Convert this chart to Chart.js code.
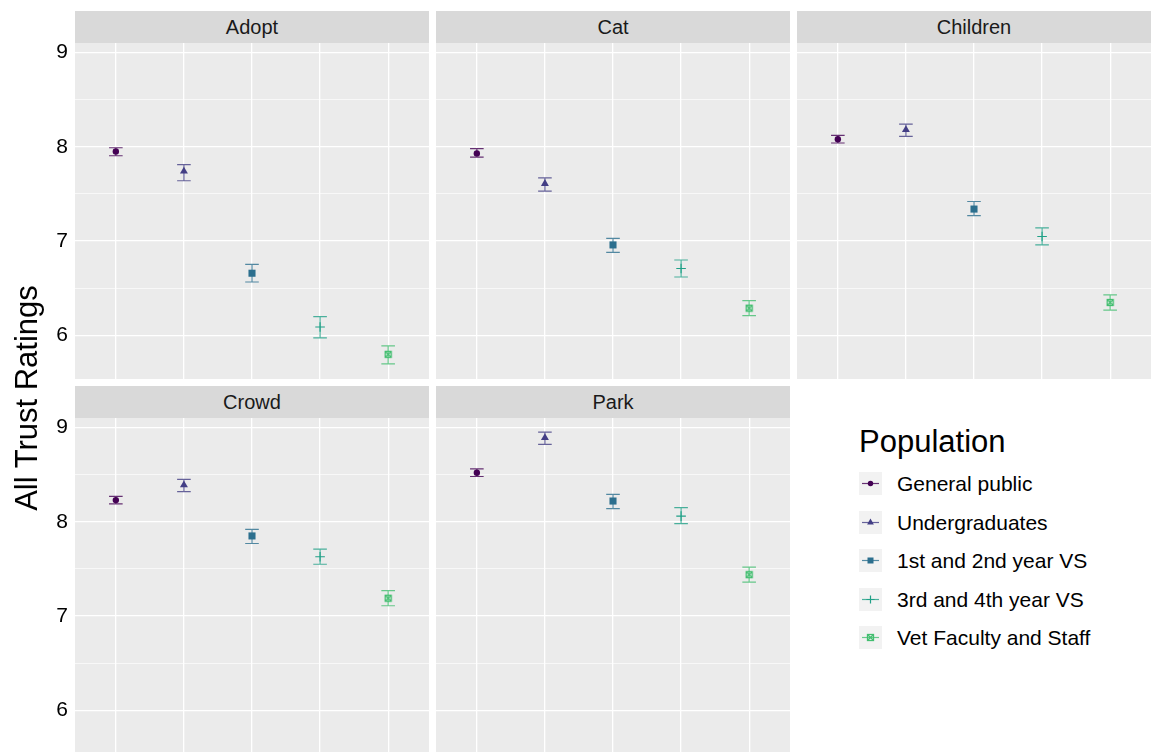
<!DOCTYPE html>
<html><head><meta charset="utf-8">
<script src="https://cdn.jsdelivr.net/npm/chart.js"></script>
<style>
html,body{margin:0;padding:0}
body{width:1156px;height:752px;overflow:hidden;background:#fff;position:relative;font-family:"Liberation Sans",Arial,Helvetica,sans-serif}
.strip{position:absolute;background:#D9D9D9;color:#1A1A1A;font-size:20px;text-align:center;height:32px;line-height:32px}
canvas{position:absolute}
.ytitle{position:absolute;width:400px;height:40px;line-height:40px;text-align:center;font-size:31px;color:#000;transform:rotate(-90deg)}
.ltitle{position:absolute;font-size:31px;line-height:30px;color:#000}
.lkey{position:absolute;width:23px;height:23px}
.llabel{position:absolute;font-size:21px;line-height:23px;color:#000;white-space:nowrap}
</style></head>
<body>
<script>
// ---- data ----
const populations = ['General public','Undergraduates','1st and 2nd year VS','3rd and 4th year VS','Vet Faculty and Staff'];
const facets = ['Adopt','Cat','Children','Crowd','Park'];
const adoptMean    = [7.95, 7.74, 6.66, 6.09, 5.80];
const adoptLow     = [7.905, 7.64, 6.567, 5.974, 5.70];
const adoptHigh    = [7.99, 7.81, 6.754, 6.20, 5.89];
const catMean      = [7.93, 7.61, 6.96, 6.71, 6.29];
const catLow       = [7.89, 7.53, 6.88, 6.62, 6.21];
const catHigh      = [7.98, 7.67, 7.03, 6.80, 6.37];
const childrenMean = [8.08, 8.18, 7.34, 7.05, 6.35];
const childrenLow  = [8.04, 8.11, 7.27, 6.96, 6.27];
const childrenHigh = [8.12, 8.24, 7.42, 7.14, 6.43];
const crowdMean    = [8.23, 8.39, 7.85, 7.63, 7.19];
const crowdLow     = [8.19, 8.32, 7.77, 7.55, 7.11];
const crowdHigh    = [8.27, 8.45, 7.92, 7.71, 7.27];
const parkMean     = [8.52, 8.89, 8.22, 8.06, 7.44];
const parkLow      = [8.48, 8.82, 8.14, 7.98, 7.36];
const parkHigh     = [8.56, 8.95, 8.29, 8.15, 7.52];
const yMajorTicks  = [6, 7, 8, 9];
const yMinorTicks  = [6.5, 7.5, 8.5];
const yTitle = 'All Trust Ratings';
const legendTitle = 'Population';

// ---- styles ----
const colors = ['#440154','#433E85','#2C6F8E','#21A087','#43BE70'];
const FONT = '"Liberation Sans", Arial, Helvetica, sans-serif';
const means = [adoptMean, catMean, childrenMean, crowdMean, parkMean];
const lows  = [adoptLow, catLow, childrenLow, crowdLow, parkLow];
const highs = [adoptHigh, catHigh, childrenHigh, crowdHigh, parkHigh];

function hexA(hex, a){
  const n = parseInt(hex.slice(1),16);
  return 'rgba(' + ((n>>16)&255) + ',' + ((n>>8)&255) + ',' + (n&255) + ',' + a + ')';
}
function squareCross(color){
  const c = document.createElement('canvas');
  c.width = 9; c.height = 9;
  const g = c.getContext('2d');
  g.strokeStyle = color; g.lineWidth = 1.3;
  g.strokeRect(1.5,1.5,6,6);
  g.beginPath(); g.moveTo(1.5,1.5); g.lineTo(7.5,7.5); g.moveTo(7.5,1.5); g.lineTo(1.5,7.5); g.stroke();
  return c;
}
const pointStyles = ['circle','triangle','rect','cross', squareCross(colors[4])];
const pointRadii  = [3.2, 4.6, 5, 4.8, 4.5];
const pointBorder = [0, 0, 0, 1.1, 0];

const bgPlugin = {
  id:'panelbg',
  beforeDraw(chart){
    const {ctx, chartArea:a} = chart;
    ctx.save(); ctx.fillStyle = '#EBEBEB';
    ctx.fillRect(a.left, a.top, a.right-a.left, a.bottom-a.top);
    ctx.restore();
  }
};
const errPlugin = {
  id:'errbars',
  beforeDatasetsDraw(chart, args, opts){
    const fi = opts.fi;
    const {ctx, scales:{x, y}} = chart;
    ctx.save();
    ctx.lineWidth = 1.2;
    for (let i = 0; i < populations.length; i++){
      const px = x.getPixelForValue(i+1);
      const xl = x.getPixelForValue(i+1-0.1), xr = x.getPixelForValue(i+1+0.1);
      const yl = y.getPixelForValue(lows[fi][i]), yh = y.getPixelForValue(highs[fi][i]);
      ctx.strokeStyle = hexA(colors[i], 0.8);
      ctx.beginPath();
      ctx.moveTo(px, yl); ctx.lineTo(px, yh);
      ctx.moveTo(xl, yl); ctx.lineTo(xr, yl);
      ctx.moveTo(xl, yh); ctx.lineTo(xr, yh);
      ctx.stroke();
    }
    ctx.restore();
  }
};

// ---- layout ----
const colX = [75, 436, 797];
const rowY = [43, 418];
const PW = 354, PH = 336, AXW = 35;
const YMIN = 5.539, YMAX = 9.1;

function addDiv(cls, text, css){
  const d = document.createElement('div');
  d.className = cls; d.textContent = text;
  Object.assign(d.style, css);
  document.body.appendChild(d);
  return d;
}

facets.forEach((name, fi) => {
  const col = fi % 3, row = Math.floor(fi / 3);
  const showY = col === 0;
  const axw = showY ? AXW : 0;
  addDiv('strip', name, {left: colX[col]+'px', top: (rowY[row]-32)+'px', width: PW+'px'});
  const cv = document.createElement('canvas');
  cv.width = PW + axw; cv.height = PH;
  cv.style.left = (colX[col]-axw)+'px'; cv.style.top = rowY[row]+'px';
  document.body.appendChild(cv);
  new Chart(cv, {
    type:'scatter',
    data:{
      datasets: populations.map((p, i) => ({
        label: p,
        data: [{x: i+1, y: means[fi][i]}],
        pointStyle: pointStyles[i],
        pointRadius: pointRadii[i],
        borderWidth: pointBorder[i],
        backgroundColor: colors[i],
        borderColor: colors[i],
        clip: false
      }))
    },
    options:{
      responsive:false, animation:false, events:[],
      layout:{padding:0, autoPadding:false},
      plugins:{legend:{display:false}, tooltip:{enabled:false}, errbars:{fi}},
      scales:{
        x:{
          type:'linear', min:0.4, max:5.6,
          afterBuildTicks: s => { s.ticks = populations.map((p, i) => ({value: i+1})); },
          ticks:{display:false},
          grid:{color:'#FFFFFF', lineWidth:1.3, drawTicks:false},
          border:{display:false},
          afterFit: s => { s.height = 0; s.paddingLeft = 0; s.paddingRight = 0; }
        },
        y:{
          type:'linear', min:YMIN, max:YMAX,
          afterBuildTicks: s => { s.ticks = yMajorTicks.concat(yMinorTicks).sort((a,b)=>a-b).map(v => ({value:v})); },
          ticks:{
            display: showY, padding:7, color:'#000',
            font:{size:21, family:FONT},
            callback: v => yMajorTicks.includes(v) ? String(v) : ''
          },
          grid:{
            color:'#FFFFFF', drawTicks:false,
            lineWidth: c => (c.tick && yMajorTicks.includes(c.tick.value)) ? 1.3 : 0.65
          },
          border:{display:false},
          afterFit: s => { s.width = axw; s.paddingTop = 0; s.paddingBottom = 0; }
        }
      }
    },
    plugins:[bgPlugin, errPlugin]
  });
});

// y axis title
addDiv('ytitle', yTitle, {left: (27-200)+'px', top: (398-20)+'px'});

// legend
addDiv('ltitle', legendTitle, {left:'859px', top:'427px'});
const keyTops = [472, 511, 549, 588, 626];
populations.forEach((p, i) => {
  const k = document.createElement('canvas');
  k.className = 'lkey'; k.width = 23; k.height = 23;
  k.style.left = '859px'; k.style.top = keyTops[i]+'px';
  document.body.appendChild(k);
  const g = k.getContext('2d');
  g.fillStyle = '#F2F2F2'; g.fillRect(0,0,23,23);
  g.strokeStyle = hexA(colors[i], 0.8); g.lineWidth = 1.2;
  g.beginPath(); g.moveTo(3, 11.5); g.lineTo(20, 11.5); g.stroke();
  g.fillStyle = colors[i]; g.strokeStyle = colors[i];
  if (Chart.helpers && Chart.helpers.drawPoint){
    Chart.helpers.drawPoint(g, {pointStyle: pointStyles[i], radius: pointRadii[i]*0.85, borderWidth: pointBorder[i] || 0, rotation:0}, 11.5, 11.5);
  }
  addDiv('llabel', p, {left:'897px', top: keyTops[i]+'px'});
});
</script>
</body></html>
